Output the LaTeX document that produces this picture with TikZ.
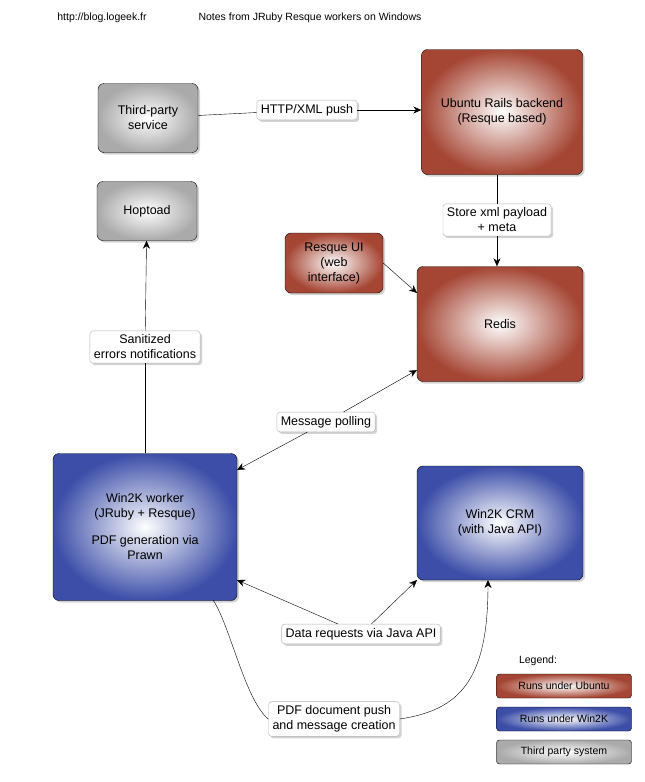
\documentclass[tikz,border=0pt]{standalone}
\usepackage{fontspec}
\setmainfont{Liberation Sans}
\usetikzlibrary{arrows.meta,shadows}

\tikzset{
	box/.style={draw=black,rounded corners=6pt,align=center,font=\fontsize{12.5}{15}\selectfont,
		shading=radial,inner color=white,drop shadow={opacity=.35,shadow xshift=2pt,shadow yshift=-2pt}},
	ubuntu/.style={box,outer color=ubuntured},
	win/.style={box,outer color=winblue},
	third/.style={box,outer color=thirdgray},
	lbl/.style={draw=black!30,fill=white,rounded corners=3pt,align=center,inner sep=4pt,
		font=\fontsize{12.5}{15}\selectfont,drop shadow={opacity=.35,shadow xshift=2pt,shadow yshift=-2pt}},
	legend/.style={draw=black,rounded corners=3pt,minimum width=135pt,minimum height=24pt,
		font=\fontsize{10.5}{12}\selectfont,shading=radial,inner color=white},
	arr/.style={-{Stealth[length=8pt,width=7pt]}},
}
\definecolor{ubuntured}{RGB}{165,70,52}
\definecolor{winblue}{RGB}{60,78,168}
\definecolor{thirdgray}{RGB}{170,170,170}

\begin{document}
\begin{tikzpicture}[x=1pt,y=-1pt]
	\useasboundingbox (0,0) rectangle (645,782);
	% header
	\node[font=\fontsize{10.5}{12}\selectfont] (url) at (102,18) {http://blog.logeek.fr};
	\node[font=\fontsize{10.5}{12}\selectfont] (title) at (310,18) {Notes from JRuby Resque workers on Windows};

	% boxes
	\node[third,minimum width=100pt,minimum height=69pt] (third) at (148,118) {Third-party\\service};
	\node[ubuntu,minimum width=161pt,minimum height=125pt] (rails) at (502,112) {Ubuntu Rails backend\\(Resque based)};
	\node[third,minimum width=100pt,minimum height=59pt] (hoptoad) at (147,211) {Hoptoad};
	\node[ubuntu,minimum width=98pt,minimum height=60pt,inner sep=1pt] (ui) at (334,263) {Resque UI\\(web\\interface)};
	\node[ubuntu,minimum width=166pt,minimum height=115pt] (redis) at (500,324) {Redis};
	\node[win,minimum width=184pt,minimum height=147pt] (worker) at (145,527) {Win2K worker\\(JRuby + Resque)\\[12pt]PDF generation via\\Prawn};
	\node[win,minimum width=166pt,minimum height=114pt] (crm) at (500,523) {Win2K CRM\\(with Java API)};

	% labels
	\node[lbl] (push) at (307,110) {HTTP/XML push};
	\node[lbl] (store) at (497,220) {Store xml payload\\+ meta};
	\node[lbl] (errors) at (145,347) {Sanitized\\errors notifications};
	\node[lbl] (poll) at (326,422) {Message polling};
	\node[lbl] (data) at (361,634) {Data requests via Java API};
	\node[lbl] (pdf) at (334,719) {PDF document push\\and message creation};

	% connectors
	\coordinate (r1) at (417,370);
	\coordinate (w1) at (237,470);
	\coordinate (w2) at (237,580);
	\coordinate (c2) at (417,580);
	\coordinate (w3) at (213,600);
	\coordinate (c3) at (488,580);
	\draw (third) -- (push);
	\draw[arr] (push) -- (rails.west |- push);
	\draw (rails.south -| store) -- (store);
	\draw[arr] (store) -- (redis.north -| store);
	\draw[arr] (ui.east) -- (417,293);
	\draw (worker.north) -- (errors);
	\draw[arr] (errors) -- (hoptoad);
	\draw[arr] (poll) -- (r1);
	\draw[arr] (poll) -- (w1);
	\draw[arr] (data) -- (w2);
	\draw[arr] (data) -- (c2);
	\draw (w3) .. controls (230,625) and (245,700) .. (pdf.west);
	\draw[arr] (pdf.east) .. controls (460,710) and (488,680) .. (c3);

	% legend
	\node[font=\fontsize{10.5}{12}\selectfont] (legendtitle) at (538,661) {Legend:};
	\node[legend,outer color=ubuntured] (lu) at (564,686) {Runs under Ubuntu};
	\node[legend,outer color=winblue] (lw) at (564,719) {Runs under Win2K};
	\node[legend,outer color=thirdgray] (lt) at (564,752) {Third party system};
\end{tikzpicture}
\end{document}
